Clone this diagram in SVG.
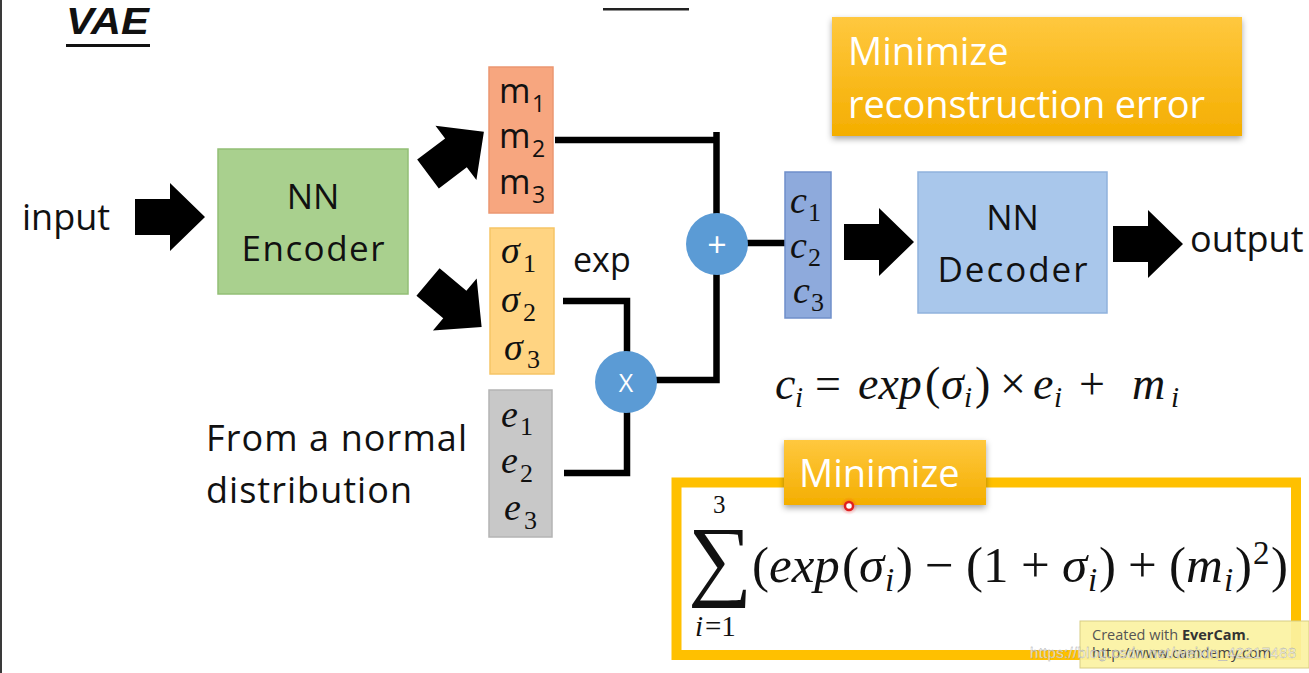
<svg xmlns="http://www.w3.org/2000/svg" width="1309" height="673" viewBox="0 0 1309 673">
<defs>
  <path id="blk" d="M0,-18 H35 V-34 L70,0 L35,34 V18 H0 Z"/>
  <linearGradient id="gold" x1="0" y1="0" x2="0" y2="1">
    <stop offset="0" stop-color="#ffc83f"/>
    <stop offset="1" stop-color="#f4ae00"/>
  </linearGradient>
  <filter id="sh" x="-10%" y="-10%" width="120%" height="140%">
    <feDropShadow dx="0" dy="3" stdDeviation="3" flood-color="#000" flood-opacity="0.35"/>
  </filter>
  <radialGradient id="glow">
    <stop offset="0" stop-color="#ff3030" stop-opacity="0.6"/>
    <stop offset="1" stop-color="#ff3030" stop-opacity="0"/>
  </radialGradient>
</defs>
<style>
  .sans{font-family:"Open Sans","Noto Sans","Liberation Sans",sans-serif;fill:#111}
  .math{font-family:"Liberation Serif","DejaVu Serif",serif;fill:#111}
  .it{font-style:italic}
  .wl{fill:#fff}
  .line{fill:none;stroke:#000;stroke-width:6.5;stroke-linejoin:miter}
  .arrow{fill:#000}
</style>
<rect x="0" y="0" width="1309" height="673" fill="#fff"/>
<rect x="0" y="0" width="2" height="673" fill="#3a3a3a"/>

<g id="title">
  <text x="66" y="34" font-family="Liberation Sans, Arial, sans-serif" fill="#111" font-size="37" font-weight="bold" font-style="italic" textLength="83" lengthAdjust="spacingAndGlyphs">VAE</text>
  <rect x="66" y="44" width="84" height="3" fill="#111"/>
</g>
<rect id="topline" x="603" y="8" width="86" height="2.5" fill="#222"/>

<g id="input"><text x="22" y="230" class="sans" font-size="36">input</text></g>

<g id="encoder">
  <rect x="218" y="149" width="190" height="145" fill="#a9d08e" stroke="#93bf76" stroke-width="1.5"/>
  <text x="313" y="209" class="sans" font-size="35" text-anchor="middle">NN</text>
  <text x="313" y="261" class="sans" font-size="35" text-anchor="middle" textLength="143">Encoder</text>
</g>

<g id="m">
  <rect x="489" y="67" width="64" height="146" fill="#f7a67f" stroke="#eb9771" stroke-width="1.5"/>
  <text class="sans" font-size="34"><tspan x="499" y="103">m</tspan><tspan x="532" y="112" font-size="23">1</tspan></text>
  <text class="sans" font-size="34"><tspan x="499" y="148">m</tspan><tspan x="532" y="157" font-size="23">2</tspan></text>
  <text class="sans" font-size="34"><tspan x="499" y="194">m</tspan><tspan x="532" y="203" font-size="23">3</tspan></text>
</g>

<g id="sigma">
  <rect x="490" y="228" width="64" height="146" fill="#ffd482" stroke="#f6c566" stroke-width="1.5"/>
  <text class="math" font-size="38"><tspan x="501" y="263" class="it">σ</tspan><tspan x="523" y="272" font-size="26">1</tspan></text>
  <text class="math" font-size="38"><tspan x="501" y="312" class="it">σ</tspan><tspan x="523" y="321" font-size="26">2</tspan></text>
  <text class="math" font-size="38"><tspan x="504" y="360" class="it">σ</tspan><tspan x="527" y="368" font-size="26">3</tspan></text>
</g>

<g id="e">
  <rect x="489" y="390" width="63" height="147" fill="#c8c8c8" stroke="#b4b4b4" stroke-width="1.5"/>
  <text class="math" font-size="38"><tspan x="501" y="427" class="it">e</tspan><tspan x="520" y="435" font-size="26">1</tspan></text>
  <text class="math" font-size="38"><tspan x="501" y="473" class="it">e</tspan><tspan x="520" y="482" font-size="26">2</tspan></text>
  <text class="math" font-size="38"><tspan x="504" y="520" class="it">e</tspan><tspan x="524" y="529" font-size="26">3</tspan></text>
</g>

<g id="exp-label"><text x="573" y="272" class="sans" font-size="34">exp</text></g>

<g id="normal-label">
  <text x="206" y="451" class="sans" font-size="36" textLength="261">From a normal</text>
  <text x="206" y="503" class="sans" font-size="36" textLength="206">distribution</text>
</g>

<g id="connectors">
  <use href="#blk" class="arrow" transform="translate(135,217)"/>
  <use href="#blk" class="arrow" transform="translate(428,174) rotate(-37)"/>
  <use href="#blk" class="arrow" transform="translate(428,282) rotate(40)"/>
  <use href="#blk" class="arrow" transform="translate(844,242)"/>
  <use href="#blk" class="arrow" transform="translate(1113,244)"/>
  <path class="line" d="M555,140 H716.5 M716.5,132 V214"/>
  <path class="line" d="M747,243 H786"/>
  <path class="line" d="M716.5,274 V380 H655"/>
  <path class="line" d="M563,301 H627 V352"/>
  <path class="line" d="M564,473 H627 V412"/>
</g>

<g id="plus">
  <circle cx="717" cy="244" r="31" fill="#5b9bd5"/>
  <text x="717" y="257" class="sans wl" font-size="34" text-anchor="middle">+</text>
</g>
<g id="times">
  <circle cx="626" cy="382" r="31" fill="#5b9bd5"/>
  <text x="626" y="392" class="sans wl" font-size="25" text-anchor="middle">X</text>
</g>

<g id="c">
  <rect x="785" y="172" width="46" height="146" fill="#8eaadc" stroke="#6f8fca" stroke-width="1.5"/>
  <text class="math" font-size="38"><tspan x="790" y="213" class="it">c</tspan><tspan x="808" y="221" font-size="26">1</tspan></text>
  <text class="math" font-size="38"><tspan x="790" y="258" class="it">c</tspan><tspan x="808" y="266" font-size="26">2</tspan></text>
  <text class="math" font-size="38"><tspan x="793" y="303" class="it">c</tspan><tspan x="811" y="311" font-size="26">3</tspan></text>
</g>

<g id="decoder">
  <rect x="918" y="172" width="189" height="141" fill="#a9c7eb" stroke="#90b2dd" stroke-width="1.5"/>
  <text x="1012.5" y="230" class="sans" font-size="35" text-anchor="middle">NN</text>
  <text x="1012.5" y="282" class="sans" font-size="35" text-anchor="middle" textLength="150">Decoder</text>
</g>

<g id="output"><text x="1190" y="252" class="sans" font-size="36">output</text></g>

<g id="recon">
  <rect x="832" y="17" width="410" height="119" fill="url(#gold)" filter="url(#sh)"/>
  <text x="848" y="65" class="sans wl" font-size="38">Minimize</text>
  <text x="848" y="118" class="sans wl" font-size="38" textLength="357">reconstruction error</text>
</g>

<g id="ci-eq" class="math" font-size="46">
  <text><tspan x="775" y="399" class="it">c</tspan><tspan x="795" y="407" font-size="29" class="it">i</tspan><tspan x="815" y="399">=</tspan><tspan x="858" y="399" class="it">exp</tspan><tspan x="925" y="399">(</tspan><tspan x="941" y="399" class="it">σ</tspan><tspan x="964" y="407" font-size="29" class="it">i</tspan><tspan x="975" y="399">)</tspan><tspan x="1000" y="399">×</tspan><tspan x="1033" y="399" class="it">e</tspan><tspan x="1054" y="407" font-size="29" class="it">i</tspan><tspan x="1079" y="399">+</tspan><tspan x="1132" y="399" class="it">m</tspan><tspan x="1171" y="407" font-size="29" class="it">i</tspan></text>
</g>

<g id="kl">
  <rect x="676.5" y="482.5" width="619.5" height="172.5" fill="none" stroke="#ffc000" stroke-width="10"/>
  <text x="688" y="589" class="math" font-size="90">∑</text>
  <text x="713" y="513" class="math" font-size="25">3</text>
  <text class="math" font-size="29"><tspan x="695" y="636" class="it">i</tspan><tspan x="705" y="636">=1</tspan></text>
  <text class="math" font-size="51"><tspan x="752" y="582">(</tspan><tspan x="769" y="582" class="it">exp</tspan><tspan x="842" y="582">(</tspan><tspan x="859" y="582" class="it">σ</tspan><tspan x="885" y="591" font-size="33" class="it">i</tspan><tspan x="896" y="582">)</tspan><tspan x="925" y="582">−</tspan><tspan x="966" y="582">(</tspan><tspan x="983" y="582">1</tspan><tspan x="1021" y="582">+</tspan><tspan x="1062" y="582" class="it">σ</tspan><tspan x="1088" y="591" font-size="33" class="it">i</tspan><tspan x="1099" y="582">)</tspan><tspan x="1128" y="582">+</tspan><tspan x="1169" y="582">(</tspan><tspan x="1186" y="582" class="it">m</tspan><tspan x="1224" y="591" font-size="33" class="it">i</tspan><tspan x="1235" y="582">)</tspan><tspan x="1253" y="564" font-size="33">2</tspan><tspan x="1271" y="582">)</tspan></text>
</g>

<g id="minimize2">
  <rect x="784" y="440" width="202" height="65" fill="url(#gold)" filter="url(#sh)"/>
  <text x="799" y="487" class="sans wl" font-size="38">Minimize</text>
</g>

<g id="cursor">
  <circle cx="849" cy="506" r="9" fill="url(#glow)"/>
  <circle cx="849" cy="506" r="4" fill="#fff" stroke="#e02020" stroke-width="2.5"/>
</g>

<g id="watermark">
  <rect x="1080" y="621" width="229" height="47" fill="#fbf2a2" fill-opacity="0.92" stroke="#d8cd85" stroke-width="1"/>
  <text x="1092" y="640" font-family="Open Sans, Liberation Sans, sans-serif" font-size="14.5" fill="#555">Created with <tspan font-weight="bold" fill="#333">EverCam</tspan>.</text>
  <text x="1092" y="658" font-family="Open Sans, Liberation Sans, sans-serif" font-size="14.5" fill="#444">http://www.camdemy.com</text>
  <text x="1030" y="658" font-family="Liberation Sans, sans-serif" font-size="15" fill="#fff" fill-opacity="0.75" stroke="#999" stroke-width="0.3" textLength="266">https://blog.csdn.net/weixin_42217488</text>
</g>
</svg>
